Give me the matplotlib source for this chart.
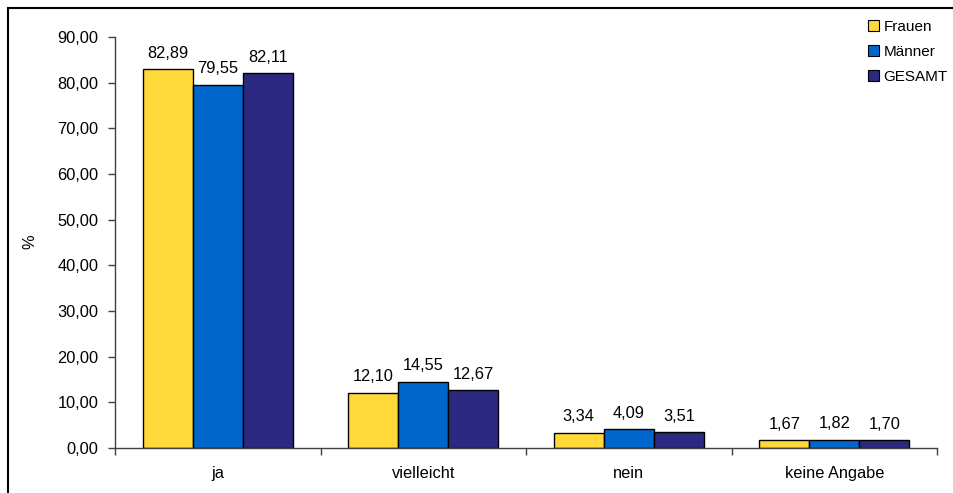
import matplotlib
matplotlib.use("Agg")
import matplotlib.pyplot as plt
import numpy as np
from matplotlib.patches import Rectangle, Patch

plt.rcParams['font.family'] = ['Liberation Sans', 'DejaVu Sans']

categories = ["ja", "vielleicht", "nein", "keine Angabe"]
series_names = ["Frauen", "Männer", "GESAMT"]
frauen = [82.89, 12.10, 3.34, 1.67]
maenner = [79.55, 14.55, 4.09, 1.82]
gesamt = [82.11, 12.67, 3.51, 1.70]
yticks = [0, 10, 20, 30, 40, 50, 60, 70, 80, 90]

colors = ["#FFD83A", "#0066CC", "#2B2A80"]
values = [frauen, maenner, gesamt]
FS = 11.8

W, H = 954, 493
fig = plt.figure(figsize=(W / 100, H / 100), dpi=100)
ax = fig.add_axes([115 / W, 1 - 448 / H, (937 - 115) / W, (448 - 37) / H])

# outer chart frame
fig.patches.append(Rectangle((8 / W, -0.1), 1.2, 1 - 8 / H + 0.1, transform=fig.transFigure,
                             fill=False, edgecolor="black", linewidth=1.5))

x = np.arange(len(categories))
bw = 50 / 205.5
for i, (vals, col, name) in enumerate(zip(values, colors, series_names)):
    pos = x + (i - 1) * bw
    bars = ax.bar(pos, vals, width=bw, color=col, edgecolor="black", linewidth=1.0, label=name)
    for b, v in zip(bars, vals):
        ax.annotate(f"{v:.2f}".replace(".", ","), (b.get_x() + b.get_width() / 2, v),
                    xytext=(0, 6), textcoords="offset points", ha="center", va="bottom",
                    fontsize=FS)

ax.set_xlim(-0.5, len(categories) - 0.5)
ax.set_ylim(0, 90)
ax.set_yticks(yticks)
ax.set_yticklabels([f"{t:.2f}".replace(".", ",") for t in yticks], fontsize=FS)
ax.set_xticks(x)
ax.set_xticklabels(categories, fontsize=FS)
ax.set_xticks(np.arange(len(categories) + 1) - 0.5, minor=True)
ax.tick_params(axis="x", which="major", length=0, pad=13)
ax.tick_params(axis="x", which="minor", length=5, direction="out", width=1, color="#404040")
ax.tick_params(axis="y", length=5, direction="out", width=1, color="#404040", pad=7)
for s in ["top", "right"]:
    ax.spines[s].set_visible(False)
for s in ["left", "bottom"]:
    ax.spines[s].set_color("#404040")
    ax.spines[s].set_linewidth(1)

fig.text(30 / W, 1 - 242 / H, "%", rotation=90, ha="center", va="center", fontsize=FS)

handles = [Patch(facecolor=c, edgecolor="black", linewidth=0.8) for c in colors]
fig.legend(handles, series_names, loc="upper left", bbox_to_anchor=(868 / W, 1 - 20 / H),
           frameon=False, fontsize=11, handlelength=0.7, handleheight=0.7,
           handletextpad=0.3, labelspacing=0.72, borderpad=0, borderaxespad=0)

fig.savefig("out.png", dpi=100)
